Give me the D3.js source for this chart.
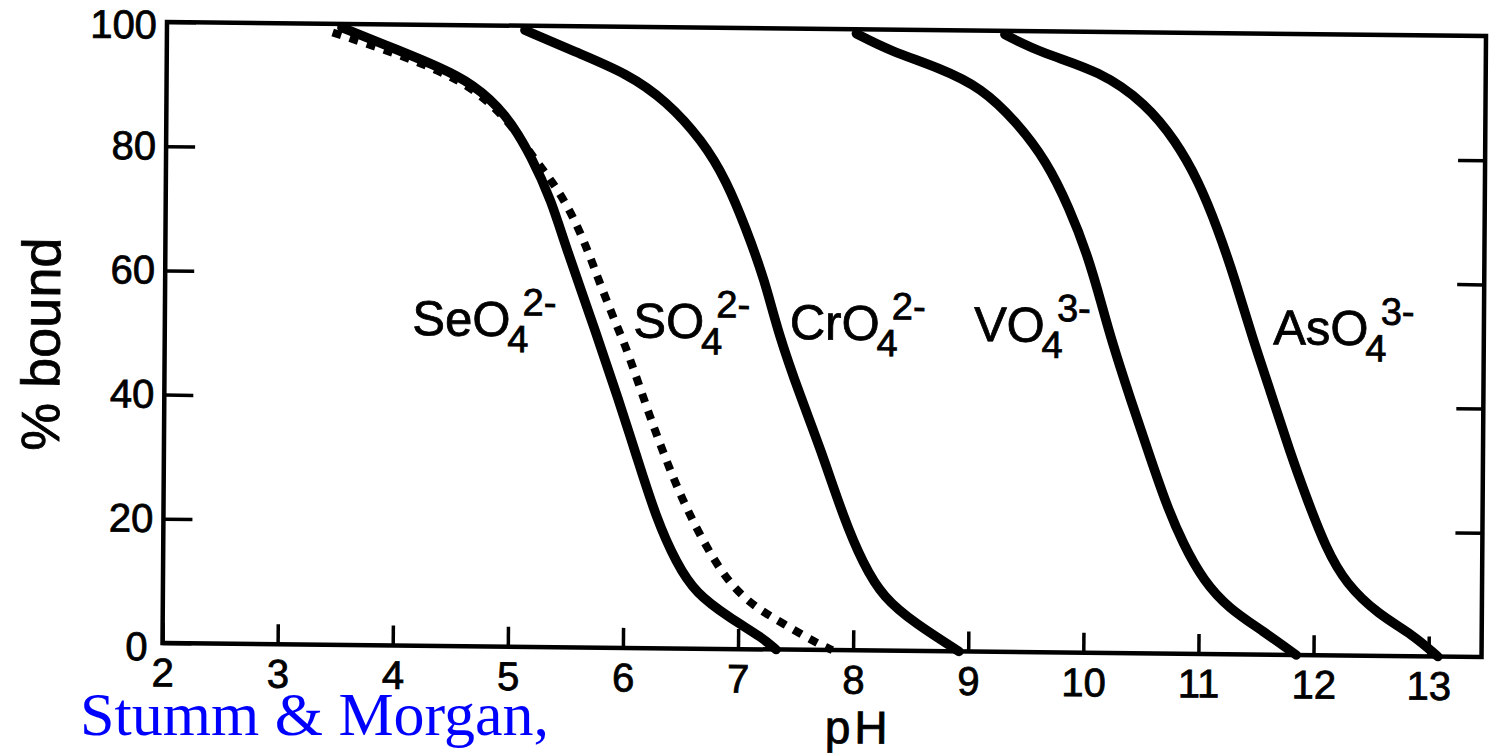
<!DOCTYPE html>
<html>
<head>
<meta charset="utf-8">
<script src="https://cdn.jsdelivr.net/npm/d3@7"></script>
<style>
  html, body { margin: 0; padding: 0; background: #fff; }
  svg { display: block; }
  .tick text { font-family: "Liberation Sans", Arial, sans-serif; font-size: 40px; fill: #000; stroke: #000; stroke-width: 0.8px; }
  .lbl { font-family: "Liberation Sans", Arial, sans-serif; fill: #000; stroke: #000; stroke-width: 0.8px; }
</style>
</head>
<body>
<div id="chart"></div>
<script>
// values (pH, % bound)
const xTicks = [2, 3, 4, 5, 6, 7, 8, 9, 10, 11, 12, 13];
const yTicks = [0, 20, 40, 60, 80, 100];
const yInner = [20, 40, 60, 80];

const seo4 = [[3.52, 99.4], [4.02, 95.8], [4.37, 93.2], [4.66, 90.6], [4.95, 85.9], [5.18, 78.8],
  [5.35, 71.9], [5.48, 64.4], [5.76, 50.0], [5.94, 40.3], [6.11, 30.7], [6.28, 21.0],
  [6.46, 13.7], [6.63, 8.9], [6.92, 5.1], [7.21, 1.9], [7.33, 0]];
const so4 = [[3.44, 98.6], [4.0, 95.3], [4.37, 92.6], [4.66, 89.9], [4.97, 84.9], [5.2, 78.5],
  [5.35, 75.2], [5.53, 69.9], [5.68, 63.5], [5.79, 58.0], [5.95, 50.8], [6.02, 47.9],
  [6.22, 37.2], [6.40, 28.6], [6.54, 22.7], [6.72, 16.3], [6.92, 10.5], [7.15, 6.7],
  [7.39, 4.2], [7.67, 1.2], [7.82, 0]];
const cro4 = [[5.11, 99.3], [5.56, 95.8], [6.0, 92.5], [6.34, 88.2], [6.66, 81.8], [6.87, 75.4],
  [7.04, 67.9], [7.21, 59.4], [7.33, 50.9], [7.53, 40.6], [7.70, 32.6], [7.91, 21.3],
  [8.08, 14.0], [8.26, 8.5], [8.54, 4.4], [8.92, 0]];
const vo4 = [[7.99, 99.3], [8.28, 96.6], [8.72, 93.9], [9.08, 90.8], [9.38, 85.5], [9.65, 79.1],
  [9.85, 71.6], [10.01, 64.2], [10.14, 56.0], [10.22, 50.7], [10.39, 41.1], [10.57, 31.5],
  [10.71, 24.1], [10.86, 17.7], [11.04, 11.8], [11.26, 7.4], [11.56, 3.8], [11.85, 0]];
const aso4 = [[9.28, 99.4], [9.61, 96.4], [10.11, 93.7], [10.51, 88.5], [10.77, 82.6], [10.97, 76.2],
  [11.14, 68.6], [11.30, 60.1], [11.44, 51.5], [11.61, 42.4], [11.78, 32.8], [11.93, 25.3],
  [12.10, 17.3], [12.28, 11.5], [12.56, 6.7], [12.86, 3.5], [13.08, 0]];

const ionNames = ["SeO", "SO", "CrO", "VO", "AsO"];
const ionCharges = ["2-", "2-", "2-", "3-", "3-"];

const W = 1489, H = 756,
  plotW = 1319, plotH = 621;

const svg = d3.select("#chart").append("svg")
  .attr("width", W)
  .attr("height", H);

// the scan is slightly skewed, so the whole figure sits in a sheared group
const g = svg.append("g")
  .attr("transform", "matrix(1,0.0106,-0.0072,1,167,22)");

const x = d3.scaleLinear().domain([2, 13.46]).range([0, plotW]);
const y = d3.scaleLinear().domain([0, 100]).range([plotH, 0]);

g.append("rect")
  .attr("width", plotW)
  .attr("height", plotH)
  .attr("fill", "none")
  .attr("stroke", "#000")
  .attr("stroke-width", 4.5);

const gx = g.append("g")
  .attr("transform", "translate(0," + plotH + ")")
  .call(d3.axisBottom(x).tickValues(xTicks).tickSizeInner(-20).tickSizeOuter(0)
    .tickPadding(15).tickFormat(d3.format("d")));

const gy = g.append("g")
  .call(d3.axisLeft(y).tickValues(yTicks).tickSizeInner(-29).tickSizeOuter(0).tickPadding(10));

const gr = g.append("g")
  .attr("transform", "translate(" + plotW + ",0)")
  .call(d3.axisRight(y).tickValues(yInner).tickSizeInner(-27).tickSizeOuter(0).tickFormat(""));

[gx, gy, gr].forEach(a => {
  a.select(".domain").remove();
  a.selectAll(".tick line").attr("stroke", "#000").attr("stroke-width", 3.5);
});
gy.selectAll(".tick text").filter(d => d == 0).attr("dx", -5).attr("dy", "0.42em");
gy.selectAll(".tick text").filter(d => d == 100).attr("dy", "0.4em");

const line = d3.line()
  .x(d => x(d[0]))
  .y(d => y(d[1]))
  .curve(d3.curveBasis);

[seo4, cro4, vo4, aso4].forEach(s => {
  g.append("path")
    .attr("d", line(s))
    .attr("fill", "none")
    .attr("stroke", "#000")
    .attr("stroke-width", 9.5)
    .attr("stroke-linecap", "round")
    .attr("stroke-linejoin", "round");
});

g.append("path")
  .attr("d", line(so4))
  .attr("fill", "none")
  .attr("stroke", "#000")
  .attr("stroke-width", 8)
  .attr("stroke-dasharray", "9 9");

// ion labels, baseline at about 50 % bound
const labelPH = [4.15, 6.07, 7.43, 9.03, 11.63];
ionNames.forEach((n, i) => {
  const t = g.append("text")
    .attr("class", "lbl")
    .attr("x", x(labelPH[i]))
    .attr("y", y(50))
    .attr("font-size", 49);
  t.append("tspan").text(n);
  t.append("tspan").attr("dx", -3).attr("dy", 16).attr("font-size", 38).text("4");
  t.append("tspan").attr("dx", -6).attr("dy", -37).attr("font-size", 38).text(ionCharges[i]);
});

g.append("text")
  .attr("class", "lbl")
  .attr("transform", "translate(-105," + (plotH / 2 + 13) + ") rotate(-90)")
  .attr("text-anchor", "middle")
  .attr("font-size", 54)
  .text("% bound");

g.append("text")
  .attr("class", "lbl")
  .attr("x", x(8.05))
  .attr("y", plotH + 93)
  .attr("text-anchor", "middle")
  .attr("font-size", 46)
  .attr("letter-spacing", 4)
  .text("pH");

svg.append("text")
  .attr("x", 80)
  .attr("y", 735)
  .attr("font-family", "'Liberation Serif', 'Times New Roman', serif")
  .attr("font-size", 62)
  .attr("fill", "#0000ff")
  .text("Stumm & Morgan,");
</script>
</body>
</html>
